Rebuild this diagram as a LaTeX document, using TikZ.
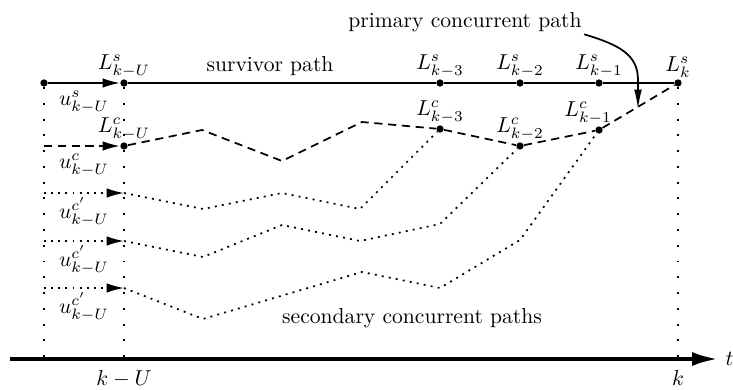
\documentclass[tikz,border=0pt]{standalone}
\usetikzlibrary{arrows.meta}
\begin{document}
\begin{tikzpicture}[x=0.463pt,y=-0.463pt,
  dot/.style={circle,fill,inner sep=0pt,minimum size=3.4pt},
  surv/.style={line width=0.8pt},
  prim/.style={line width=0.8pt,dash pattern=on 3.8pt off 2.6pt},
  sec/.style={line width=0.8pt,dash pattern=on 0.9pt off 2.4pt},
  guide/.style={line width=0.8pt,dash pattern=on 0.9pt off 6.4pt},
  tip/.style={-{Latex[length=8pt,width=4.4pt]}},
  lab/.style={inner sep=0.5pt,anchor=south}
]
\useasboundingbox (0,0) rectangle (733,390);
% survivor dots
\node[dot] (s0) at (44,83) {};
\node[dot] (sU) at (124,83) {};
\node[dot] (s3) at (440,83) {};
\node[dot] (s2) at (520,83) {};
\node[dot] (s1) at (599,83) {};
\node[dot] (sk) at (678,83) {};
% concurrent dots
\node[dot] (cU) at (124,146) {};
\node[dot] (c3) at (440,129) {};
\node[dot] (c2) at (520,146) {};
\node[dot] (c1) at (599,130) {};
% labels
\node[lab] (lsU) at (sU.north) {$L^s_{k-U}$};
\node[lab] (ls3) at (s3.north) {$L^s_{k-3}$};
\node[lab] (ls2) at (s2.north) {$L^s_{k-2}$};
\node[lab] (ls1) at (s1.north) {$L^s_{k-1}$};
\node[lab] (lsk) at (sk.north) {$L^s_{k}$};
\node[lab] (lcU) at (cU.north) {$L^c_{k-U}$};
\node[lab] (lc3) at (c3.north) {$L^c_{k-3}$};
\node[lab] (lc2) at (c2.north) {$L^c_{k-2}$};
\node[lab,xshift=-5pt] (lc1) at (c1.north) {$L^c_{k-1}$};
% coordinates
\coordinate (cs) at (44,146);
\coordinate (a1) at (44,193);
\coordinate (b1) at (124,193);
\coordinate (a2) at (44,241);
\coordinate (b2) at (124,241);
\coordinate (a3) at (44,288);
\coordinate (b3) at (124,288);
\coordinate (g0) at (44,359);
\coordinate (gU) at (124,363);
\coordinate (gk) at (678,363);
\coordinate (ax0) at (10,359);
\coordinate (ax1) at (718,359);
% guides
\draw[guide] (s0) -- (g0);
\draw[guide] (sU) -- (gU);
\draw[guide] (sk) -- (gk);
% survivor path
\draw[surv,tip] (s0) -- (sU);
\draw[surv] (sU) -- (s3) -- (s2) -- (s1) -- (sk);
% primary concurrent path
\draw[prim,tip] (cs) -- (cU);
\draw[prim] (cU) -- (202,130) -- (282,161) -- (362,122) -- (c3) -- (c2) -- (c1) -- (sk);
% secondary paths
\draw[sec,tip] (a1) -- (b1);
\draw[sec] (b1) -- (203,209) -- (282,193) -- (360,209) -- (c3);
\draw[sec,tip] (a2) -- (b2);
\draw[sec] (b2) -- (203,257) -- (282,225) -- (360,241) -- (440,224) -- (c2);
\draw[sec,tip] (a3) -- (b3);
\draw[sec] (b3) -- (203,319) -- (362,272) -- (440,288) -- (520,240) -- (c1);
% u labels
\node (us) at (84,102) {$u^s_{k-U}$};
\node (uc) at (84,165) {$u^c_{k-U}$};
\node (uc1) at (84,212) {$u^{c'}_{k-U}$};
\node (uc2) at (84,260) {$u^{c'}_{k-U}$};
\node (uc3) at (84,307) {$u^{c'}_{k-U}$};
% axis
\draw[line width=1.8pt,-{Latex[length=12pt,width=6.5pt]}] (ax0) -- (ax1);
\node[anchor=west] (t) at (ax1) {$t$};
\node[below] (kU) at (gU) {$k-U$};
\node[below] (kk) at (gk) {$k$};
% texts
\node (sp) at (270,66) {survivor path};
\node[inner sep=1pt] (pp) at (465,22) {primary concurrent path};
\node (scp) at (412,318) {secondary concurrent paths};
\coordinate (ptip) at (638,109);
\draw[surv,-{Latex[length=9pt,width=3.6pt]}] (pp.south east) .. controls (620,45) and (638,55) .. (638,80) -- (ptip);
\end{tikzpicture}
\end{document}
